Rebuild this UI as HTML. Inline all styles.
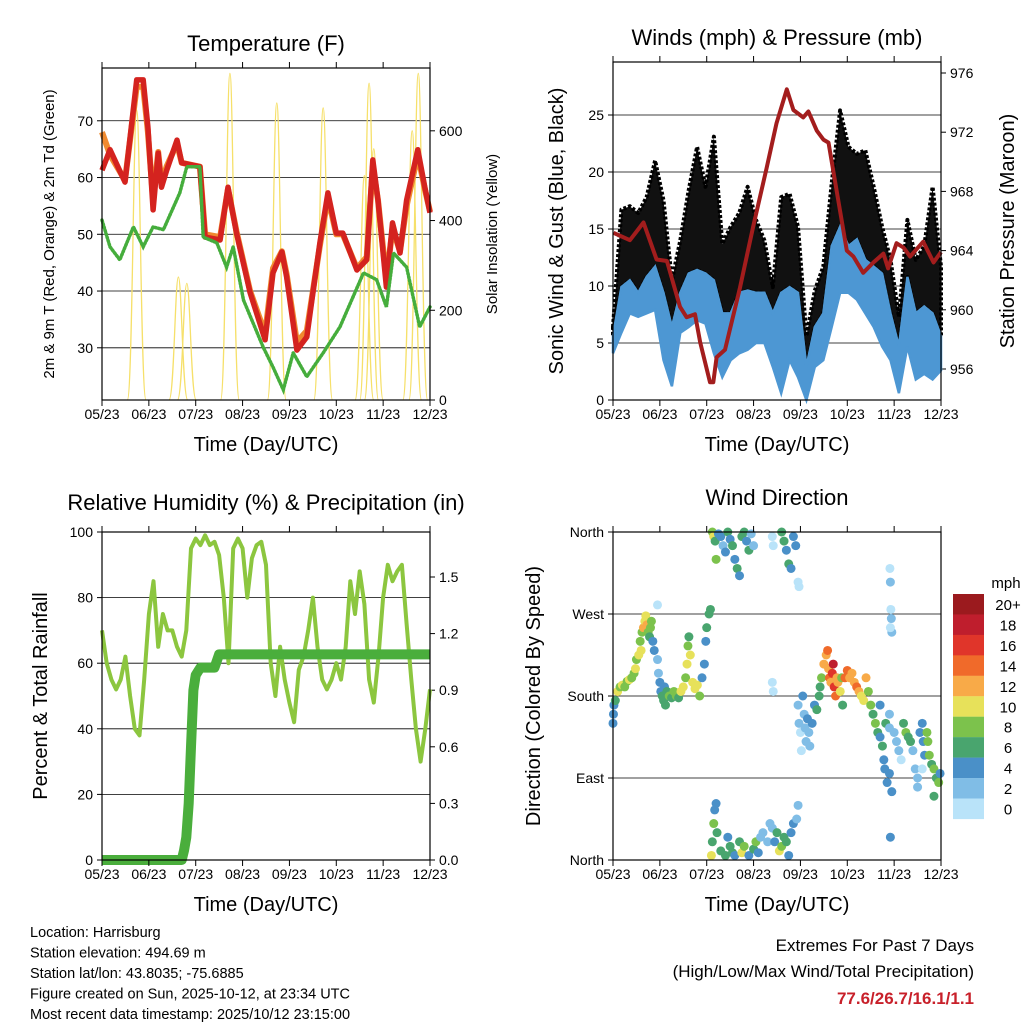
<!DOCTYPE html>
<html><head><meta charset="utf-8">
<style>
html,body{margin:0;padding:0;background:#fff;}
svg{display:block;font-family:"Liberation Sans",sans-serif;}
</style></head>
<body>
<svg id="chart" width="1024" height="1024" viewBox="0 0 1024 1024" xmlns="http://www.w3.org/2000/svg"></svg>
<script>
// ---------- DATA ----------
const monthLabels = ["05/23","06/23","07/23","08/23","09/23","10/23","11/23","12/23"];
const tempT = [0,0.17,0.49,0.74,0.88,0.98,1.09,1.2,1.27,1.38,1.6,1.7,2.09,2.2,2.52,2.69,2.87,3.16,3.48,3.65,3.84,3.94,4.16,4.37,4.5,4.65,4.82,5.0,5.14,5.44,5.65,5.78,5.89,6.07,6.2,6.36,6.5,6.74,6.89,7.0];
const tempRed = [61.3,64.9,59.2,77.2,77.2,68.9,54.3,64.3,58.3,61.3,66.6,62.6,61.9,49.5,49,58.3,50.2,39.7,31.4,43.2,46.9,42.5,29.6,31.9,39.7,48.5,57.3,50.2,50.2,43.7,45.5,63.1,56,40.7,52,46.7,56,64.9,58.3,53.8];
const tempOrange = [68,64,59.5,76,76,68,56,64.5,59,62,66,62.6,61.9,50,49.5,58,50.5,40,32.5,44,47,43,31,33,40,48,56.5,50,50,44,46,62,56,42,51,47,55,64,58,54];
const tdT = [0,0.17,0.38,0.67,0.88,1.09,1.31,1.66,1.81,2.09,2.16,2.45,2.66,2.8,3.02,3.44,3.65,3.87,4.08,4.37,4.72,5.08,5.58,5.86,6.07,6.22,6.5,6.78,7.0];
const tdGreen = [52.5,47.8,45.5,51.3,47.8,51.3,50.8,57.3,61.9,61.9,49.5,48.5,44.2,47.8,38.4,30.1,26.6,22.6,29.1,24.9,29.1,33.7,43.2,42,37.2,46.7,44.2,33.7,37.2];
const solarT = [0.74,1.63,1.81,2.73,3.73,4.72,5.6,5.7,5.8,6.62,6.75];
const solarPeak = [646,274,260,728,662,651,500,706,560,600,728];
const windHi = [5.6,9.9,10.5,9.4,10.8,11.7,9.4,6.4,9.4,11.1,11.4,11.1,10.5,7.6,7.6,9.4,9.6,9.4,9.4,7.6,9.4,9.9,9.4,2.9,6.4,7.6,13.5,15.2,13.5,14.1,12.3,11.7,11.1,7.6,4.7,10.8,7.6,8.2,7.6,5.6];
const windLo = [4.1,5.9,7.6,7.3,7.6,7.9,3.5,1.2,5.9,6.4,7.0,6.7,4.1,2.0,3.5,4.1,4.4,5.0,5.0,2.9,0.6,3.5,2.0,0,2.9,3.5,6.4,9.4,9.4,8.8,7.6,6.4,4.7,3.5,0.6,4.7,1.8,2.3,1.8,2.6];
const gustHi = [6.4,16.7,17,16.4,17.8,21,17.5,10.5,14,18.4,22.2,18.7,23.1,13.7,15.2,16.4,18.7,15.8,14,9.9,17.8,18.1,15.2,5.6,9.6,11.7,19,25.4,22.2,21.6,21.9,18.7,15.2,12.3,7.3,15.8,12.3,13.5,18.7,11.7];
const presT = [0.01,0.36,0.65,0.93,1.15,1.43,1.57,1.75,1.86,2.07,2.14,2.21,2.39,2.71,2.99,3.28,3.49,3.71,3.85,4.06,4.17,4.35,4.49,4.6,4.77,4.99,5.13,5.34,5.56,5.77,5.87,6.05,6.2,6.34,6.62,6.84,7.0];
const presVal = [965.2,964.7,965.9,963.4,963.3,960.2,959.5,959.7,957.8,955.1,955.1,956.8,957.3,961.5,965.6,969.6,972.6,974.9,973.5,973.0,973.4,972.1,971.5,971.3,968.1,964.0,963.6,962.5,963.2,963.8,962.8,964.5,964.2,963.6,964.6,963.2,963.9];
const rhVal = [70,60,55,52,55,62,50,40,38,55,75,85,65,75,70,70,65,62,70,95,98,96,99,96,97,93,80,60,95,98,95,80,92,96,97,90,60,50,65,55,48,42,58,62,70,80,65,55,52,55,60,55,65,85,75,88,78,55,48,62,80,90,85,88,90,72,55,40,30,40,52];
const rainT = [0,1.7,1.75,1.8,1.85,1.9,1.95,2.0,2.1,2.4,2.5,7.0];
const rainVal = [0,0,0.05,0.12,0.3,0.6,0.9,0.98,1.02,1.02,1.09,1.09];
const dirPts = [
[0,150,4],[0.01,160,4],[0.02,170,4],[0.05,175,6],[0.1,185,10],[0.15,190,8],[0.2,192,10],[0.25,190,8],[0.3,196,8],[0.35,198,10],[0.4,200,8],[0.45,205,8],[0.48,210,10],[0.5,220,8],[0.55,225,10],[0.58,240,8],[0.6,230,10],[0.62,250,8],[0.65,255,12],[0.68,262,10],[0.7,268,10],[0.72,258,12],[0.75,250,8],[0.78,245,6],[0.8,255,8],[0.82,262,8],[0.85,240,4],[0.88,230,4],
[0.95,220,2],[0.97,205,2],[1.0,195,4],[1.02,185,4],[1.05,180,6],[1.08,175,6],[1.1,190,4],[1.12,170,6],[1.15,185,6],[1.2,180,8],[1.25,178,6],[1.3,185,8],[1.35,180,8],[1.4,178,6],[1.45,185,10],[1.5,190,10],[1.55,200,8],[1.58,215,10],[1.6,235,8],[1.62,245,6],[1.65,225,10],[1.7,195,10],[1.75,188,10],[1.8,192,10],[1.85,180,8],[1.9,200,4],[1.95,215,4],[1.98,240,4],[2.0,255,6],[2.05,270,6],[2.08,275,6],
[2.12,360,8],[2.15,355,10],[2.18,350,6],[2.2,330,8],[2.25,358,4],[2.3,355,4],[2.35,345,2],[2.4,338,4],[2.45,360,6],[2.5,352,4],[2.55,345,6],[2.6,330,4],[2.65,320,6],[2.7,312,4],[2.75,355,6],[2.8,360,6],[2.85,350,4],[2.9,340,6],[2.95,358,2],[3.0,345,2],
[3.4,355,0],[3.42,345,0],[3.6,360,6],[3.65,350,6],[3.7,340,4],[3.75,325,6],[3.8,320,4],[3.85,355,4],[3.9,345,4],[3.95,305,0],[3.97,300,0],
[2.1,5,10],[2.12,20,6],[2.15,40,8],[2.17,55,4],[2.2,62,4],[2.22,30,6],[2.3,10,6],[2.4,5,6],[2.45,25,4],[2.5,15,6],[2.55,8,6],[2.6,5,4],[2.7,20,6],[2.75,8,10],[2.8,15,8],[2.9,5,4],[3.0,12,6],[3.05,20,8],[3.1,8,4],[3.15,25,2],[3.2,30,2],[3.3,20,2],[3.35,40,2],[3.4,35,2],[3.45,20,4],[3.5,30,6],[3.55,10,10],[3.6,15,8],[3.65,25,6],[3.7,20,6],[3.75,5,4],[3.8,30,4],[3.85,40,4],[3.92,45,2],[3.95,60,2],
[0.95,280,0],[3.4,195,0],[3.42,185,0],
[3.95,170,2],[3.97,150,2],[4.0,140,0],[4.02,120,0],[4.05,180,4],[4.08,160,2],[4.1,145,2],[4.12,130,2],[4.15,155,4],[4.18,140,2],[4.2,125,2],[4.25,150,4],[4.3,170,4],[4.35,165,6],[4.4,180,6],[4.42,190,6],[4.45,200,8],
[4.5,215,12],[4.55,225,12],[4.58,230,14],[4.6,210,12],[4.62,200,14],[4.65,195,12],[4.68,205,16],[4.7,215,18],[4.72,190,16],[4.75,180,14],[4.78,200,12],[4.8,195,12],[4.85,185,10],[4.88,200,8],[4.9,170,6],
[4.95,200,14],[5.0,208,14],[5.05,200,12],[5.1,205,12],[5.15,195,12],[5.2,190,14],[5.25,185,12],[5.3,180,10],[5.35,175,10],[5.4,200,12],[5.45,185,8],[5.5,170,8],[5.55,160,6],[5.6,150,8],[5.65,140,6],[5.7,135,4],[5.75,125,6],[5.78,110,4],[5.8,100,4],[5.85,85,4],[5.9,95,4],[5.95,75,4],[5.82,150,6],
[5.7,170,4],[5.9,145,2],[5.9,160,2],[5.92,25,4],[5.91,320,0],[5.92,305,2],[5.93,275,0],[5.94,265,2],[5.95,250,2],[5.92,255,0],
[6.0,140,2],[6.05,130,2],[6.1,120,2],[6.15,110,0],[6.2,150,6],[6.25,140,8],[6.3,135,6],[6.35,130,6],[6.4,120,2],[6.45,100,2],[6.5,90,2],[6.55,140,4],[6.6,150,4],[6.62,130,4],[6.65,115,4],[6.7,140,8],[6.72,130,8],[6.75,115,8],[6.8,105,6],[6.85,100,8],[6.9,90,6],[6.95,85,8],[6.98,95,4],[6.85,70,6],[6.5,80,2],[6.6,100,0]];
const speedLabels = ["20+","18","16","14","12","10","8","6","4","2","0"];
const speedColors = ["#9b1a1e","#bf1e2d","#e0352a","#f06a2a","#f8aa48","#e7e15a","#7cc24c","#49a56e","#4a90c8","#80bde6","#b9e3f9"];

// ---------- HELPERS ----------
const NS="http://www.w3.org/2000/svg";
const svg=document.getElementById('chart');
function el(tag,attrs,parent){const e=document.createElementNS(NS,tag);for(const k in attrs)e.setAttribute(k,attrs[k]);(parent||svg).appendChild(e);return e;}
function txt(s,x,y,size,anchor,parent,extra){const e=el('text',Object.assign({x:x,y:y,'font-size':size,'text-anchor':anchor||'middle',fill:'#000'},extra||{}),parent);e.textContent=s;return e;}
function linePath(xs,ys){return xs.map((x,i)=>(i?'L':'M')+x.toFixed(1)+','+ys[i].toFixed(1)).join('');}

function panel(name,x0,x1,y0,y1){
  const g=el('g',{});
  
  
  return {g,x0,x1,y0,y1,xT:t=>x0+t/7*(x1-x0)};
}
function frame(p){
  const r=el('rect',{x:p.x0,y:p.y0,width:p.x1-p.x0,height:p.y1-p.y0,fill:'none',stroke:'#000','stroke-width':1.2},p.g);
  
  
}
function xAxis(p){
  const g=el('g',{},p.g);
  
  
  monthLabels.forEach((m,i)=>{const x=p.xT(i);
    el('line',{x1:x,x2:x,y1:p.y1,y2:p.y1+6,stroke:'#000'},g);
    el('line',{x1:x,x2:x,y1:p.y0,y2:p.y0-6,stroke:'#000'},g);
    const t=txt(m,x,p.y1+19,14,'middle',g);
    
    
  });
  const t=txt('Time (Day/UTC)',(p.x0+p.x1)/2,p.y1+51,20,'middle',g);
  
  
}
function yTicks(p,vals,labels,yf,side,grid){
  const g=el('g',{},p.g);
  
  
  vals.forEach((v,i)=>{const y=yf(v);
    if(grid&&y>p.y0+1&&y<p.y1-1)el('line',{x1:p.x0,x2:p.x1,y1:y,y2:y,stroke:'#000','stroke-width':0.8},g);
    if(side==='left'){el('line',{x1:p.x0,x2:p.x0-5,y1:y,y2:y,stroke:'#000'},g);
      const t=txt(labels[i],p.x0-9,y+5,14,'end',g);}
    else{el('line',{x1:p.x1,x2:p.x1+5,y1:y,y2:y,stroke:'#000'},g);
      const t=txt(labels[i],p.x1+9,y+5,14,'start',g);}
  });
}
function vtitle(s,x,y,size,name){const t=txt(s,x,y,size,'middle',svg,{transform:`rotate(-90 ${x} ${y})`});}
function title(s,x,y,name){const t=txt(s,x,y,22,'middle');}

// ---------- PANEL 1 TEMPERATURE ----------
const p1=panel('temperature-panel',102,430,68,400);
const yT=v=>400-(v-20.8)/(79.3-20.8)*332;
const yS=v=>400-v/740*332;
yTicks(p1,[30,40,50,60,70],["30","40","50","60","70"],yT,'left',true);
yTicks(p1,[0,200,400,600],["0","200","400","600"],yS,'right',false);
{
  const g=el('g',{},p1.g);
  solarT.forEach((t,i)=>{const xc=p1.xT(t),w=p1.xT(0.2)-p1.xT(0),yb=yS(0),yp=yS(solarPeak[i]);
    const s=el('path',{d:`M${xc-w},${yb} C${xc-w*0.45},${yb} ${xc-w*0.35},${yp} ${xc},${yp} C${xc+w*0.35},${yp} ${xc+w*0.45},${yb} ${xc+w},${yb}`,fill:'none',stroke:'#f6e06a','stroke-width':1.3},g);
    });
  const o=el('path',{d:linePath(tempT.map(p1.xT),tempOrange.map(yT)),fill:'none',stroke:'#f08a30','stroke-width':6,'stroke-linejoin':'round'},p1.g);
  
  const r=el('path',{d:linePath(tempT.map(p1.xT),tempRed.map(yT)),fill:'none',stroke:'#d4231f','stroke-width':5.5,'stroke-linejoin':'round'},p1.g);
  
  const gr=el('path',{d:linePath(tdT.map(p1.xT),tdGreen.map(yT)),fill:'none',stroke:'#45ad3c','stroke-width':3.5,'stroke-dasharray':'1.5 2','stroke-linecap':'round'},p1.g);
  
}
frame(p1);xAxis(p1);
title('Temperature (F)',266,51,'temperature-title');
vtitle('2m & 9m T (Red, Orange) & 2m Td (Green)',54,234,15,'temp-y-axis-title');
vtitle('Solar Insolation (Yellow)',497,234,15,'solar-y-axis-title');

// ---------- PANEL 2 WINDS ----------
const p2=panel('winds-panel',613,941,62,400);
const yW=v=>400-v/29.65*338;
const yP=v=>369-(v-956)*14.8;
yTicks(p2,[0,5,10,15,20,25],["0","5","10","15","20","25"],yW,'left',true);
yTicks(p2,[956,960,964,968,972,976],["956","960","964","968","972","976"],yP,'right',false);
{
  const n=windHi.length, tx=i=>p2.xT(i*7/(n-1));
  const xs=windHi.map((v,i)=>tx(i));
  const gArea=linePath(xs,gustHi.map(yW))+linePath(xs.slice().reverse(),windHi.slice().reverse().map(yW)).replace('M','L')+'Z';
  const gb=el('path',{d:gArea,fill:'#111',stroke:'#000','stroke-width':4,'stroke-linejoin':'round','stroke-dasharray':'3 2'},p2.g);
  
  const area=linePath(xs,windHi.map(yW))+linePath(xs.slice().reverse(),windLo.slice().reverse().map(yW)).replace('M','L')+'Z';
  const b=el('path',{d:area,fill:'#4d97d3',stroke:'#4d97d3','stroke-width':2.5},p2.g);
  
  const pr=el('path',{d:linePath(presT.map(p2.xT),presVal.map(yP)),fill:'none',stroke:'#a31d1d','stroke-width':4,'stroke-linejoin':'round'},p2.g);
  
}
frame(p2);xAxis(p2);
title('Winds (mph) & Pressure (mb)',777,45,'winds-title');
vtitle('Sonic Wind & Gust (Blue, Black)',563,231,20,'wind-y-axis-title');
vtitle('Station Pressure (Maroon)',1014,231,20,'pressure-y-axis-title');

// ---------- PANEL 3 RH ----------
const p3=panel('humidity-panel',102,430,532,860);
const yR=v=>860-v*3.28;
const yRain=v=>860-v/0.3*56.6;
yTicks(p3,[0,20,40,60,80,100],["0","20","40","60","80","100"],yR,'left',true);
yTicks(p3,[0,0.3,0.6,0.9,1.2,1.5],["0.0","0.3","0.6","0.9","1.2","1.5"],yRain,'right',false);
{
  const n=rhVal.length;
  const rh=el('path',{d:linePath(rhVal.map((v,i)=>p3.xT(i*7/(n-1))),rhVal.map(yR)),fill:'none',stroke:'#8cc63f','stroke-width':4,'stroke-linejoin':'round'},p3.g);
  
  const rn=el('path',{d:linePath(rainT.map(p3.xT),rainVal.map(yRain)),fill:'none',stroke:'#4aae3c','stroke-width':10,'stroke-linejoin':'round'},p3.g);
  
}
frame(p3);xAxis(p3);
title('Relative Humidity (%) & Precipitation (in)',266,510,'humidity-title');
vtitle('Percent & Total Rainfall',47,696,20,'humidity-y-axis-title');

// ---------- PANEL 4 DIRECTION ----------
const p4=panel('wind-direction-panel',613,941,532,860);
const yD=d=>860-d/360*328;
yTicks(p4,[0,90,180,270,360],["North","East","South","West","North"],yD,'left',true);
{
  const g=el('g',{},p4.g);
  const colorFor=s=>speedColors[Math.max(0,Math.min(10,10-Math.floor(s/2)))];
  dirPts.forEach(p=>{const c=el('circle',{cx:p4.xT(p[0]),cy:yD(p[1]),r:4.5,fill:colorFor(p[2])},g);
    });
}
frame(p4);xAxis(p4);
title('Wind Direction',777,505,'wind-direction-title');
vtitle('Direction (Colored By Speed)',540,696,20,'direction-y-axis-title');
{
  const g=el('g',{});
  txt('mph',1006,588,15,'middle',g);
  speedColors.forEach((c,i)=>{const y=594+i*20.45;
    const r=el('rect',{x:953,y:y,width:31,height:20.6,fill:c},g);
    
    txt(speedLabels[i],1008,y+16,15,'middle',g);});
}

// ---------- FOOTER ----------
{
  const g=el('g',{});
  ["Location: Harrisburg","Station elevation: 494.69 m","Station lat/lon: 43.8035; -75.6885","Figure created on Sun, 2025-10-12, at 23:34 UTC","Most recent data timestamp: 2025/10/12 23:15:00"].forEach((s,i)=>txt(s,30,937+i*20.5,14.5,'start',g));
  const h=el('g',{});
  txt('Extremes For Past 7 Days',974,951,17,'end',h);
  txt('(High/Low/Max Wind/Total Precipitation)',974,977,17,'end',h);
  txt('77.6/26.7/16.1/1.1',974,1004,17,'end',h,{fill:'#c8202a','font-weight':'bold'});
}
</script>
</body></html>
